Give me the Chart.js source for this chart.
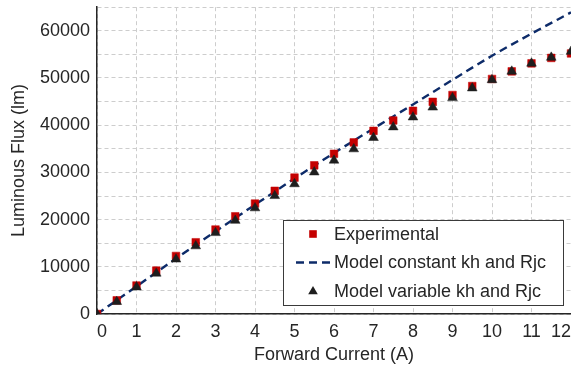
<!DOCTYPE html>
<html>
<head>
<meta charset="utf-8">
<script src="https://cdn.jsdelivr.net/npm/chart.js@4.4.1/dist/chart.umd.min.js"></script>
<style>
  html, body { margin: 0; padding: 0; background: #fff; overflow: hidden; }
  #wrap { width: 571px; height: 367px; }
</style>
</head>
<body>
<div id="wrap"><canvas id="c" width="571" height="367"></canvas></div>
<script>
// forward current (A) for the measured / variable-model points
const currentSteps = [0, 0.5, 1, 1.5, 2, 2.5, 3, 3.5, 4, 4.5, 5, 5.5, 6, 6.5, 7, 7.5, 8, 8.5, 9, 9.5, 10, 10.5, 11, 11.5, 12];
const experimental = [0, 2900, 6050, 9200, 12300, 15200, 17900, 20700, 23400, 26100, 28900, 31500, 33950,
  36350, 38800, 41000, 43050, 44950, 46400, 48300, 49800, 51400, 53100, 54250, 55200];
const modelVariable = [0, 2600, 5700, 8600, 11600, 14400, 17200, 19800, 22450, 25050, 27550, 30050, 32550,
  34950, 37350, 39600, 41700, 43800, 45800, 47850, 49600, 51400, 53100, 54350, 55600];

// constant kh / Rjc model curve
const lineCurrent = [0, 1, 2, 3, 4, 5, 6, 7, 8, 9, 10, 11, 12];
const modelConstant = [0, 5850, 11750, 17500, 23150, 28700, 34100, 39300, 44400, 49600, 54700, 59400, 63900];

const seriesLabels = ['Experimental', 'Model constant kh and Rjc', 'Model variable kh and Rjc'];

const textColor = '#262626';
const gridColor = '#cdcdcd';
const redColor = '#c40000';
const navyColor = '#0d2b69';
const triColor = '#1e1e1e';

const toPoints = (xs, ys) => xs.map((x, i) => ({ x: x, y: ys[i] }));

// legend box drawn inside the plot, lower right
const legendBox = {
  id: 'legendBox',
  afterDraw(chart) {
    const ctx = chart.ctx;
    const area = chart.chartArea;
    const w = 280, h = 85;
    const x = area.right - 8 - w;
    const y = area.bottom - 9 - h;
    ctx.save();
    ctx.fillStyle = '#fff';
    ctx.fillRect(x, y, w, h);
    ctx.strokeStyle = '#3a3a3a';
    ctx.lineWidth = 1;
    ctx.strokeRect(x + 0.5, y + 0.5, w, h);

    const mx = x + 30;
    const rows = [y + 14, y + 42.5, y + 71];
    // square
    ctx.fillStyle = redColor;
    ctx.fillRect(mx - 3.8, rows[0] - 3.8, 7.6, 7.6);
    // dashed line
    ctx.strokeStyle = navyColor;
    ctx.lineWidth = 2.4;
    ctx.setLineDash([8, 5]);
    ctx.beginPath();
    ctx.moveTo(mx - 17, rows[1]);
    ctx.lineTo(mx + 18, rows[1]);
    ctx.stroke();
    ctx.setLineDash([]);
    // triangle
    ctx.fillStyle = triColor;
    ctx.beginPath();
    ctx.moveTo(mx, rows[2] - 5);
    ctx.lineTo(mx + 4.8, rows[2] + 3.2);
    ctx.lineTo(mx - 4.8, rows[2] + 3.2);
    ctx.closePath();
    ctx.fill();

    ctx.fillStyle = textColor;
    ctx.font = '18px "Liberation Sans", Arial, sans-serif';
    ctx.textBaseline = 'middle';
    ctx.textAlign = 'left';
    seriesLabels.forEach((t, i) => ctx.fillText(t, x + 51, rows[i] + 1));
    ctx.restore();
  }
};

const font = { family: '"Liberation Sans", Arial, sans-serif', size: 18 };

new Chart(document.getElementById('c'), {
  type: 'scatter',
  data: {
    datasets: [
      {
        label: seriesLabels[0],
        data: toPoints(currentSteps, experimental),
        pointStyle: 'rect',
        pointRadius: 5.4,
        backgroundColor: redColor,
        borderColor: redColor,
        pointBorderWidth: 0.5,
        order: 2
      },
      {
        label: seriesLabels[1],
        data: toPoints(lineCurrent, modelConstant),
        showLine: true,
        pointRadius: 0,
        borderColor: navyColor,
        borderWidth: 2.4,
        borderDash: [8, 5],
        cubicInterpolationMode: 'monotone',
        order: 3
      },
      {
        label: seriesLabels[2],
        data: toPoints(currentSteps, modelVariable),
        pointStyle: 'triangle',
        pointRadius: 5.6,
        backgroundColor: triColor,
        borderColor: triColor,
        pointBorderWidth: 0.5,
        order: 1
      }
    ]
  },
  options: {
    responsive: false,
    animation: false,
    layout: { padding: 0, autoPadding: false },
    plugins: { legend: { display: false }, tooltip: { enabled: false } },
    scales: {
      x: {
        type: 'linear',
        min: 0,
        max: 12,
        ticks: { stepSize: 1, align: 'inner', padding: 0, color: textColor, font: font },
        grid: { color: gridColor, lineWidth: 1, tickLength: 7, tickColor: 'rgba(0,0,0,0)' },
        border: { color: textColor, width: 1.5, dash: [4, 3] },
        title: { display: true, text: 'Forward Current (A)', color: textColor, font: font, padding: { top: 0, bottom: 1.5 } },
        afterFit: (scale) => { scale.height = 53; }
      },
      y: {
        min: 0,
        max: 65000,
        ticks: {
          stepSize: 5000,
          padding: 0,
          color: textColor,
          font: { family: font.family, size: 18, lineHeight: 0.8 },
          callback: (v) => (v % 10000 === 0 ? String(v) : '')
        },
        grid: { color: gridColor, lineWidth: 1, tickLength: 7, tickColor: 'rgba(0,0,0,0)' },
        border: { color: textColor, width: 1.5, dash: [4, 3] },
        title: { display: true, text: 'Luminous Flux (lm)', color: textColor, font: font, padding: { top: 8, bottom: 0 } },
        afterFit: (scale) => { scale.width = 97; }
      }
    }
  },
  plugins: [legendBox]
});
</script>
</body>
</html>
